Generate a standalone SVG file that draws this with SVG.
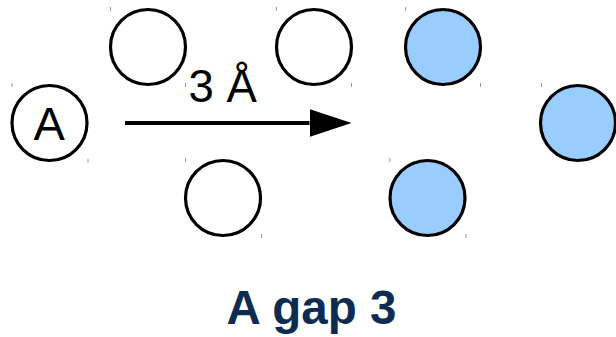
<svg xmlns="http://www.w3.org/2000/svg" width="616" height="337" viewBox="0 0 616 337">
  <style>
    .atom { fill: #ffffff; stroke: #000000; stroke-width: 3.2; }
    .filled { fill: #99ccff; }
    .tick { stroke: #9a9a9a; stroke-width: 1; }
    .label { font-family: "Liberation Sans", Arial, sans-serif; fill: #000000; }
    .title { font-family: "Liberation Sans", Arial, sans-serif; font-weight: bold; fill: #0d2c51; }
  </style>
  <defs>
    <marker id="head" markerWidth="42" markerHeight="28" refX="0" refY="14" orient="auto" markerUnits="userSpaceOnUse">
      <path d="M0,0 L42,14 L0,28 Z" fill="#000000"/>
    </marker>
  </defs>

  <!-- labelled atom -->
  <g id="atom-a">
    <circle class="atom" cx="49.5" cy="123" r="37.5"/>
    <text class="label" x="49.3" y="140" font-size="47" text-anchor="middle">A</text>
    <line class="tick" x1="12" y1="83" x2="12" y2="87"/>
    <line class="tick" x1="88" y1="159" x2="88" y2="163"/>
  </g>

  <!-- open atoms -->
  <g id="atom-top-1">
    <circle class="atom" cx="148" cy="47" r="37.5"/>
    <line class="tick" x1="110.5" y1="7" x2="110.5" y2="11"/>
    <line class="tick" x1="185.5" y1="83" x2="185.5" y2="87"/>
  </g>
  <g id="atom-top-2">
    <circle class="atom" cx="314" cy="47" r="37.5"/>
    <line class="tick" x1="276.5" y1="7" x2="276.5" y2="11"/>
    <line class="tick" x1="351.5" y1="83" x2="351.5" y2="87"/>
  </g>
  <g id="atom-bottom-1">
    <circle class="atom" cx="223" cy="198" r="37.5"/>
    <line class="tick" x1="185.5" y1="158" x2="185.5" y2="162"/>
    <line class="tick" x1="261.5" y1="234" x2="261.5" y2="238"/>
  </g>

  <!-- shaded atoms -->
  <g id="atom-blue-top">
    <circle class="atom filled" cx="443" cy="47" r="37.5"/>
    <line class="tick" x1="405.5" y1="7" x2="405.5" y2="11"/>
    <line class="tick" x1="480.5" y1="83" x2="480.5" y2="87"/>
  </g>
  <g id="atom-blue-right">
    <circle class="atom filled" cx="578" cy="123" r="37.5"/>
    <line class="tick" x1="541.5" y1="83" x2="541.5" y2="87"/>
  </g>
  <g id="atom-blue-bottom">
    <circle class="atom filled" cx="427.5" cy="198" r="37.5"/>
    <line class="tick" x1="390" y1="158" x2="390" y2="162"/>
    <line class="tick" x1="466" y1="234" x2="466" y2="238"/>
  </g>

  <!-- shift arrow -->
  <g id="connectors">
    <line x1="125" y1="123" x2="309.5" y2="123" stroke="#000000" stroke-width="4" marker-end="url(#head)"/>
    <text class="label" x="188.5" y="102" font-size="45.5">3 Å</text>
  </g>

  <text class="title" x="311.5" y="323.5" font-size="47.5" text-anchor="middle">A gap 3</text>
</svg>
